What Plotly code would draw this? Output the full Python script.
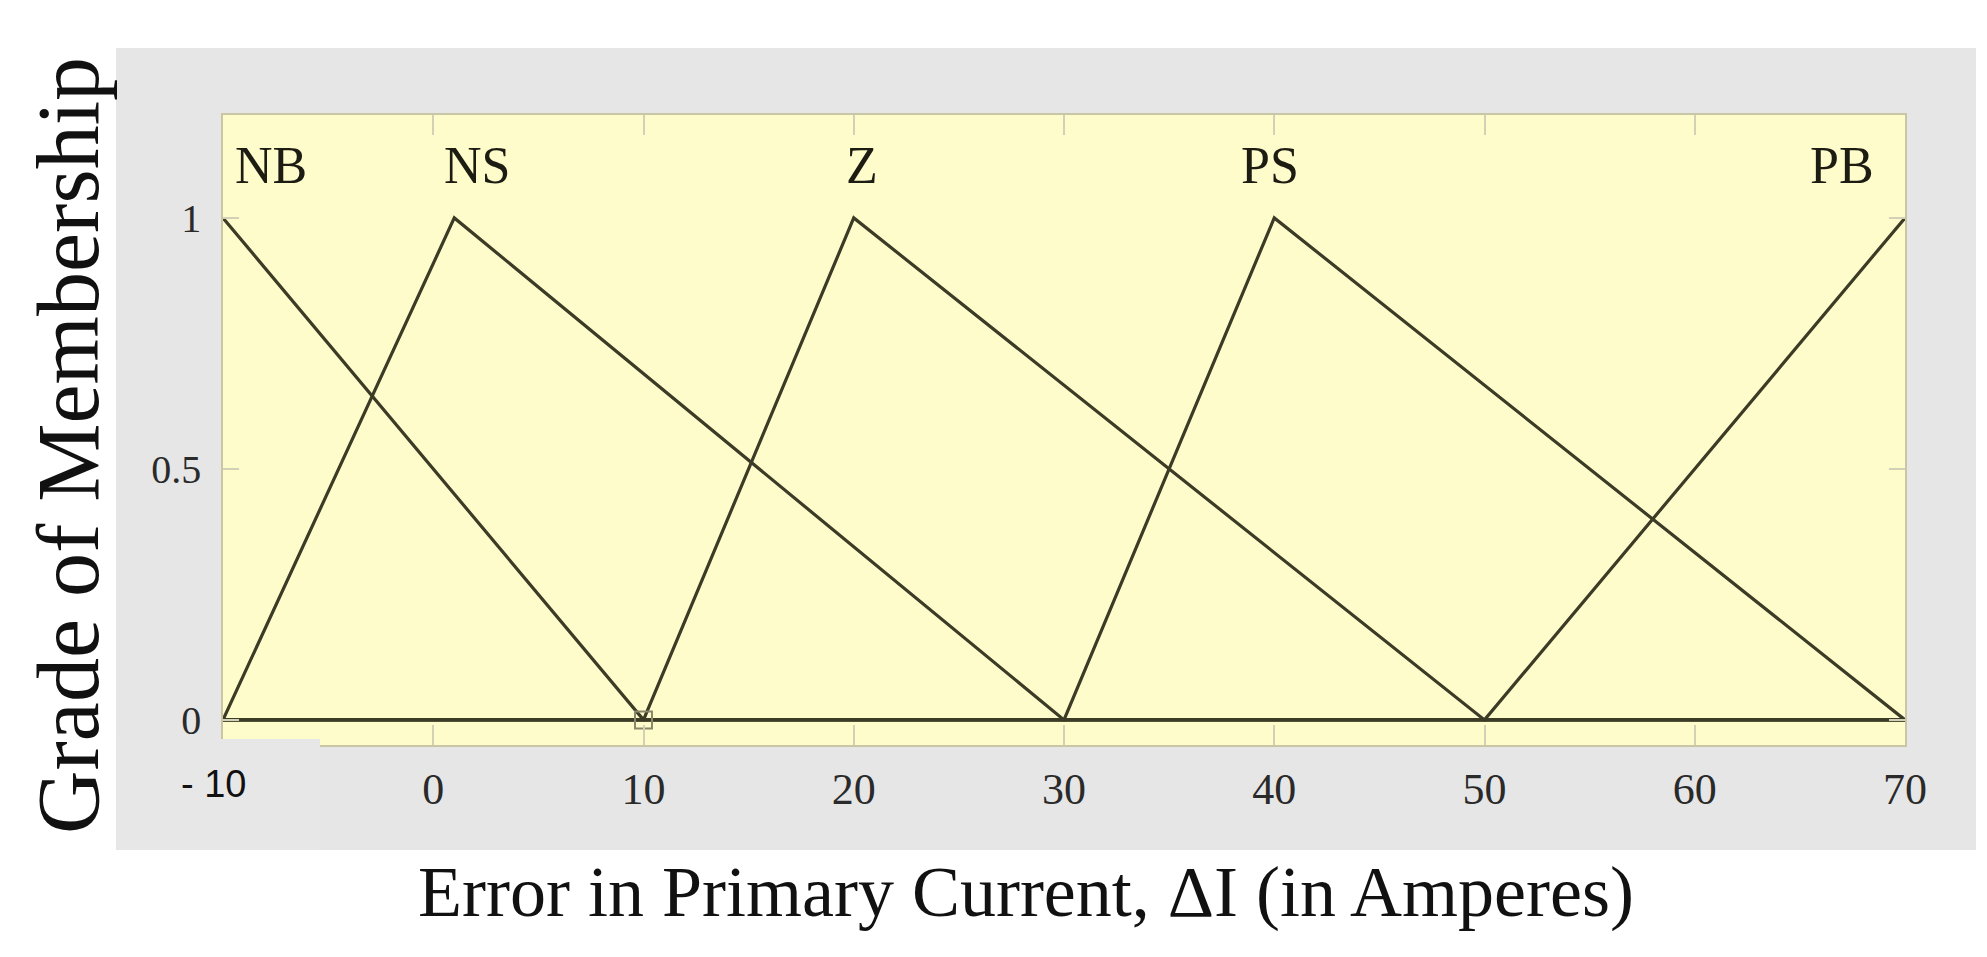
import plotly.graph_objects as go

# ── datos: funciones de pertenencia triangulares [a, b, c] ───────────────────
mf_names = ["NB", "NS", "Z", "PS", "PB"]
mf_a = [-10, -10, 10, 30, 50]
mf_b = [-10, 1, 20, 40, 70]
mf_c = [10, 30, 50, 70, 70]

x_min, x_max = -10, 70
x_ticks = [-10, 0, 10, 20, 30, 40, 50, 60, 70]
y_ticks = [0, 0.5, 1]
y_ticklabels = ["0", "0.5", "1"]

# punto seleccionado (cuadrito en la base)
sel_x = [10]
sel_y = [0]

# posiciones de las etiquetas (x de datos)
label_x = [-7.7, 2.1, 20.4, 39.8, 67.0]
label_y = 1.104

LINE = "#3b3b26"
YELLOW = "#fffccc"
GRAY = "#e6e6e6"
SERIF = "Liberation Serif, Times New Roman, serif"

W, H = 1987, 957
L, R, T, B = 215, 1897, 107, 737


def px_x(px):
    return (px - L) / (R - L)


def px_y(py):
    return (B - py) / (B - T)


def trimf(x, a, b, c):
    if x == b:
        return 1.0
    if a < x < b:
        return (x - a) / (b - a)
    if b < x < c:
        return (c - x) / (c - b)
    return 0.0


fig = go.Figure()

for name, a, b, c in zip(mf_names, mf_a, mf_b, mf_c):
    xs = sorted(set([x_min, a, b, c, x_max]))
    ys = [trimf(v, a, b, c) for v in xs]
    fig.add_trace(go.Scatter(
        x=xs, y=ys, mode="lines", name=name,
        line=dict(color=LINE, width=3.2),
        hoverinfo="x+y+name",
    ))

fig.add_trace(go.Scatter(
    x=sel_x, y=sel_y, mode="markers",
    marker=dict(symbol="square-open", size=17, color="#8a8868", line=dict(width=2)),
    hoverinfo="skip",
))

for name, lx in zip(mf_names, label_x):
    fig.add_annotation(
        x=lx, y=label_y, text=name, showarrow=False,
        font=dict(family=SERIF, size=52, color="#1c1c12"),
        xanchor="center", yanchor="middle",
    )

# etiqueta "- 10" pegada en otra fuente
fig.add_annotation(
    x=px_x(205), y=px_y(776), xref="paper", yref="paper",
    text="- 10", showarrow=False,
    font=dict(family="Liberation Sans, Arial, sans-serif", size=38, color="#111111"),
    xanchor="center", yanchor="middle",
)

# títulos de ejes
fig.add_annotation(
    x=px_x(1018), y=px_y(884), xref="paper", yref="paper",
    text="Error in Primary Current, ΔI (in Amperes)", showarrow=False,
    font=dict(family=SERIF, size=72, color="#111111"),
    xanchor="center", yanchor="middle",
)
fig.add_annotation(
    x=px_x(60), y=px_y(438), xref="paper", yref="paper",
    text="Grade of Membership", showarrow=False, textangle=-90,
    font=dict(family=SERIF, size=88, color="#111111"),
    xanchor="center", yanchor="middle",
)

# panel gris y fondo amarillo (las formas "below" tapan plot_bgcolor)
fig.add_shape(
    type="rect", xref="paper", yref="paper", layer="below",
    x0=px_x(108), x1=px_x(1968), y0=px_y(842), y1=px_y(40),
    fillcolor=GRAY, line=dict(width=0),
)
fig.add_shape(
    type="rect", xref="paper", yref="paper", layer="below",
    x0=0, x1=1, y0=0, y1=1,
    fillcolor=YELLOW, line=dict(width=0),
)
# parche gris bajo la etiqueta "- 10"
fig.add_shape(
    type="rect", xref="paper", yref="paper", layer="above",
    x0=px_x(108), x1=px_x(312), y0=px_y(842), y1=px_y(731),
    fillcolor="#e7e7e7", line=dict(width=0),
)

fig.update_layout(
    width=W, height=H,
    paper_bgcolor="white",
    plot_bgcolor="rgba(0,0,0,0)",
    showlegend=False,
    margin=dict(l=L, r=W - R, t=T, b=H - B, pad=0),
    xaxis=dict(
        range=[x_min, x_max], tickvals=x_ticks,
        ticktext=["" if v == -10 else str(v) for v in x_ticks],
        ticks="inside", ticklen=20, tickcolor="#d2d0b6", tickwidth=1.5,
        showline=True, linecolor="#c8c6a4", linewidth=1.5, mirror="ticks",
        showgrid=False, zeroline=False,
        tickfont=dict(family=SERIF, size=44, color="#2a2a2a"),
        ticklabelstandoff=4,
    ),
    yaxis=dict(
        range=[-0.05, 1.205], tickvals=y_ticks, ticktext=y_ticklabels,
        ticks="inside", ticklen=16, tickcolor="#d2d0b6", tickwidth=1.5,
        showline=True, linecolor="#c8c6a4", linewidth=1.5, mirror="ticks",
        showgrid=False, zeroline=False,
        tickfont=dict(family=SERIF, size=40, color="#2a2a2a"),
        ticklabelstandoff=12,
    ),
)

fig.write_html("out.html")
